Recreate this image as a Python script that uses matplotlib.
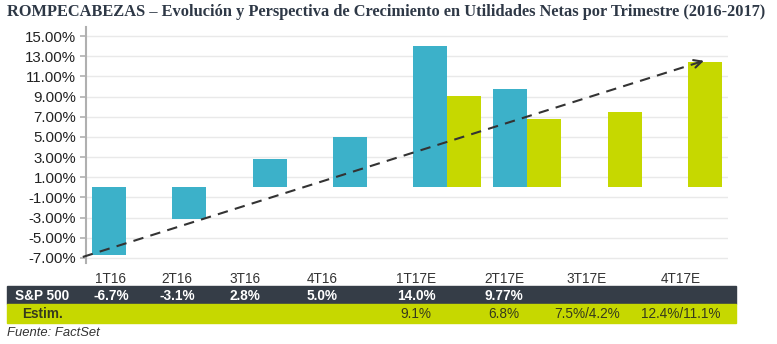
import numpy as np
import matplotlib
matplotlib.use('Agg')
import matplotlib.pyplot as plt
from matplotlib.patches import Rectangle

# quarterly net earnings growth, S&P 500 (actual) vs. estimates
quarters = ['1T16', '2T16', '3T16', '4T16', '1T17E', '2T17E', '3T17E', '4T17E']
sp500 = [-6.7, -3.1, 2.8, 5.0, 14.0, 9.77, np.nan, np.nan]
estim = [np.nan, np.nan, np.nan, np.nan, 9.1, 6.8, 7.5, 12.4]
sp500_txt = ['-6.7%', '-3.1%', '2.8%', '5.0%', '14.0%', '9.77%', '', '']
estim_txt = ['', '', '', '', '9.1%', '6.8%', '7.5%/4.2%', '12.4%/11.1%']
yticks = [-7, -5, -3, -1, 1, 3, 5, 7, 9, 11, 13, 15]
trend = ([-0.54, 7.2], [-6.9, 12.55])

BLUE = '#3cb1c9'
GREEN = '#c6d800'
DARK = '#353d47'
TXT = '#333333'
OLIVE = '#363a1c'

W, H = 777, 344
fig = plt.figure(figsize=(W / 100, H / 100), dpi=100)
plt.rcParams['font.family'] = ['Liberation Sans', 'DejaVu Sans']


def fx(px):
    return px / W


def fy(py):
    return 1 - py / H


ax = fig.add_axes([fx(86), fy(263), fx(728) - fx(86), fy(27) - fy(263)])

x = np.arange(len(quarters))
bw = 0.424
ax.bar(x - bw / 2, sp500, bw, color=BLUE, zorder=2)
ax.bar(x + bw / 2, estim, bw, color=GREEN, zorder=2)

ax.set_xlim(-0.5, len(quarters) - 0.5)
ax.set_ylim(-7.5, 15.9)
ax.set_yticks(yticks)
ax.set_yticklabels(['{:.2f}%'.format(v) for v in yticks], fontsize=10.8, color='#222222')
ax.set_xticks([])
ax.grid(axis='y', color='#e9e9e9', linewidth=1, zorder=0)
for s in ['top', 'right', 'bottom']:
    ax.spines[s].set_visible(False)
ax.spines['left'].set_color('#b0b0b0')
ax.spines['left'].set_linewidth(1.5)
ax.tick_params(axis='y', length=4, color='#b0b0b0', width=1.2, pad=3)

# trend arrow
ax.plot(trend[0], trend[1], color='#333333', linestyle=(0, (5, 3.5)), linewidth=1.5,
        clip_on=False, zorder=3)
ax.annotate('', xy=(trend[0][1], trend[1][1]),
            xytext=(trend[0][1] - 0.05, trend[1][1] - 0.125),
            arrowprops=dict(arrowstyle='->', color='#333333', lw=1.5,
                            mutation_scale=14, shrinkA=0, shrinkB=0),
            annotation_clip=False, zorder=3)

# title
fig.text(fx(7), fy(12), 'ROMPECABEZAS \u2013 Evoluci\u00f3n y Perspectiva de Crecimiento en '
         'Utilidades Netas por Trimestre (2016-2017)',
         family='Liberation Serif', weight='bold', fontsize=11.8, color='#2e3846',
         ha='left', va='center')

# table under the chart
col_x = [111, 177, 245, 322, 416, 504, 587, 681]
fs = 9.8
fig.patches.append(Rectangle((fx(7), fy(304)), fx(736) - fx(7), fy(286) - fy(304),
                             transform=fig.transFigure, color=DARK, zorder=0))
fig.patches.append(Rectangle((fx(7), fy(323)), fx(736) - fx(7), fy(304) - fy(323),
                             transform=fig.transFigure, color=GREEN, zorder=0))
fig.text(fx(15), fy(295.5), 'S&P 500', color='white', weight='bold', fontsize=fs,
         ha='left', va='center')
fig.text(fx(22), fy(314), 'Estim.', color=OLIVE, weight='bold', fontsize=fs,
         ha='left', va='center')
for cx, q, a, e in zip(col_x, quarters, sp500_txt, estim_txt):
    fig.text(fx(cx), fy(279), q, color=TXT, fontsize=fs, ha='center', va='center')
    fig.text(fx(cx), fy(295.5), a, color='white', weight='bold', fontsize=fs,
             ha='center', va='center')
    fig.text(fx(cx), fy(314), e, color=OLIVE, fontsize=fs,
             ha='center', va='center')

fig.text(fx(7), fy(333), 'Fuente: FactSet', style='italic', color=TXT, fontsize=9.4,
         ha='left', va='center')

fig.savefig('out.png', dpi=100)
